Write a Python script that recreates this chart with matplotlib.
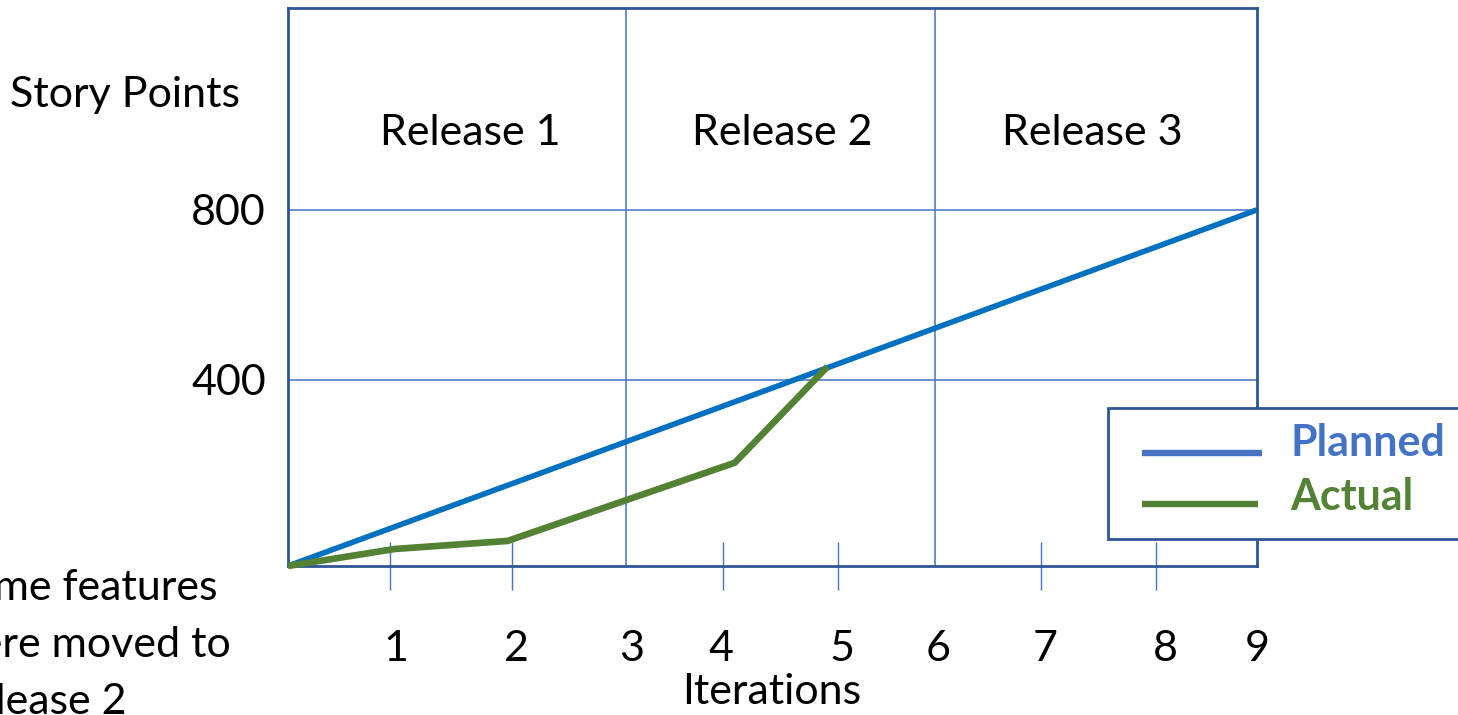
import matplotlib
matplotlib.use("Agg")
import matplotlib.pyplot as plt
from matplotlib.ticker import FixedLocator, NullFormatter
from matplotlib.lines import Line2D
from matplotlib.patches import Rectangle

plt.rcParams['font.family'] = ['Lato', 'DejaVu Sans']

# ---- data ----
tick_pos = [1.0, 2.12, 3.19, 4.02, 5.15, 6.04, 7.03, 8.15, 9.0]
tick_labels = ["1", "2", "3", "4", "5", "6", "7", "8", "9"]
minor_marks = [0.95, 2.08, 4.04, 5.11, 6.99, 8.06]
release_bounds = [3.14, 6.01]
releases = ["Release 1", "Release 2", "Release 3"]
release_label_x = [1.69, 4.59, 7.47]
release_label_y = 980
y_ticks = [400, 800]
y_tick_labels = ["400", "800"]

planned_x = [0, 9]
planned_y = [-38, 800]
actual_x = [0, 0.99, 2.04, 4.15, 5.01]
actual_y = [-38, 2, 21, 205, 431]

legend_labels = ["Planned", "Actual"]

FRAME = "#2F5597"
GRID = "#4472C4"
BLUE = "#0070C0"
GREEN = "#548235"
LEG_BLUE = "#4472C4"
FS = 31

W, H = 1458, 715
fig = plt.figure(figsize=(W / 100, H / 100), dpi=100)
ax = fig.add_axes([288 / W, (H - 566) / H, (1257 - 288) / W, (566 - 8) / H])

ax.set_xlim(0, 9)
ax.set_ylim(-38, 1275)

for s in ax.spines.values():
    s.set_color(FRAME)
    s.set_linewidth(2)

# gridlines
for yv in y_ticks:
    ax.axhline(yv, color=GRID, lw=1.1, zorder=1)
for xv in release_bounds:
    ax.axvline(xv, color=GRID, lw=1.1, zorder=1)

# lines
ax.plot(planned_x, planned_y, color=BLUE, lw=4.0, solid_capstyle='butt',
        zorder=3, clip_on=False)
ax.plot(actual_x, actual_y, color=GREEN, lw=4.8, solid_capstyle='butt',
        solid_joinstyle='miter', zorder=4, clip_on=False)

# release labels
for name, xv in zip(releases, release_label_x):
    ax.text(xv, release_label_y, name, ha='center', va='center', fontsize=FS, color='black')

# ticks
ax.xaxis.set_major_locator(FixedLocator(tick_pos))
ax.set_xticklabels(tick_labels)
ax.xaxis.set_minor_locator(FixedLocator(minor_marks))
ax.xaxis.set_minor_formatter(NullFormatter())
ax.tick_params(axis='x', which='major', length=0, pad=46, labelsize=FS)
ax.tick_params(axis='x', which='minor', direction='inout', length=34, width=1, color=GRID)
ax.set_yticks(y_ticks)
ax.set_yticklabels(y_tick_labels)
ax.tick_params(axis='y', length=0, pad=16, labelsize=FS)

# labels
fig.text(10 / W, 1 - 95 / H, "Story Points", ha='left', va='center', fontsize=FS)
fig.text(772 / W, 1 - 692 / H, "Iterations", ha='center', va='center', fontsize=FS)
fig.text(-54 / W, 1 - 645 / H, "Some features\nwere moved to\nRelease 2", ha='left',
         va='center', fontsize=FS, linespacing=1.62)

# legend box (extends past the right edge, as in the reference)
fig.patches.append(Rectangle((1108 / W, 1 - 539 / H), 400 / W, 131 / H,
                             transform=fig.transFigure, facecolor='white',
                             edgecolor=FRAME, lw=2, zorder=5))
fig.lines.append(Line2D([1142 / W, 1262 / W], [1 - 453 / H, 1 - 453 / H],
                        transform=fig.transFigure, color=LEG_BLUE, lw=4.6,
                        solid_capstyle='butt', zorder=6))
fig.lines.append(Line2D([1142 / W, 1258 / W], [1 - 504 / H, 1 - 504 / H],
                        transform=fig.transFigure, color=GREEN, lw=4.6,
                        solid_capstyle='butt', zorder=6))
fig.text(1290 / W, 1 - 443 / H, legend_labels[0], ha='left', va='center',
         fontsize=FS, fontweight='bold', color=LEG_BLUE, zorder=7)
fig.text(1290 / W, 1 - 497 / H, legend_labels[1], ha='left', va='center',
         fontsize=FS, fontweight='bold', color=GREEN, zorder=7)

fig.savefig("out.png", dpi=100)
